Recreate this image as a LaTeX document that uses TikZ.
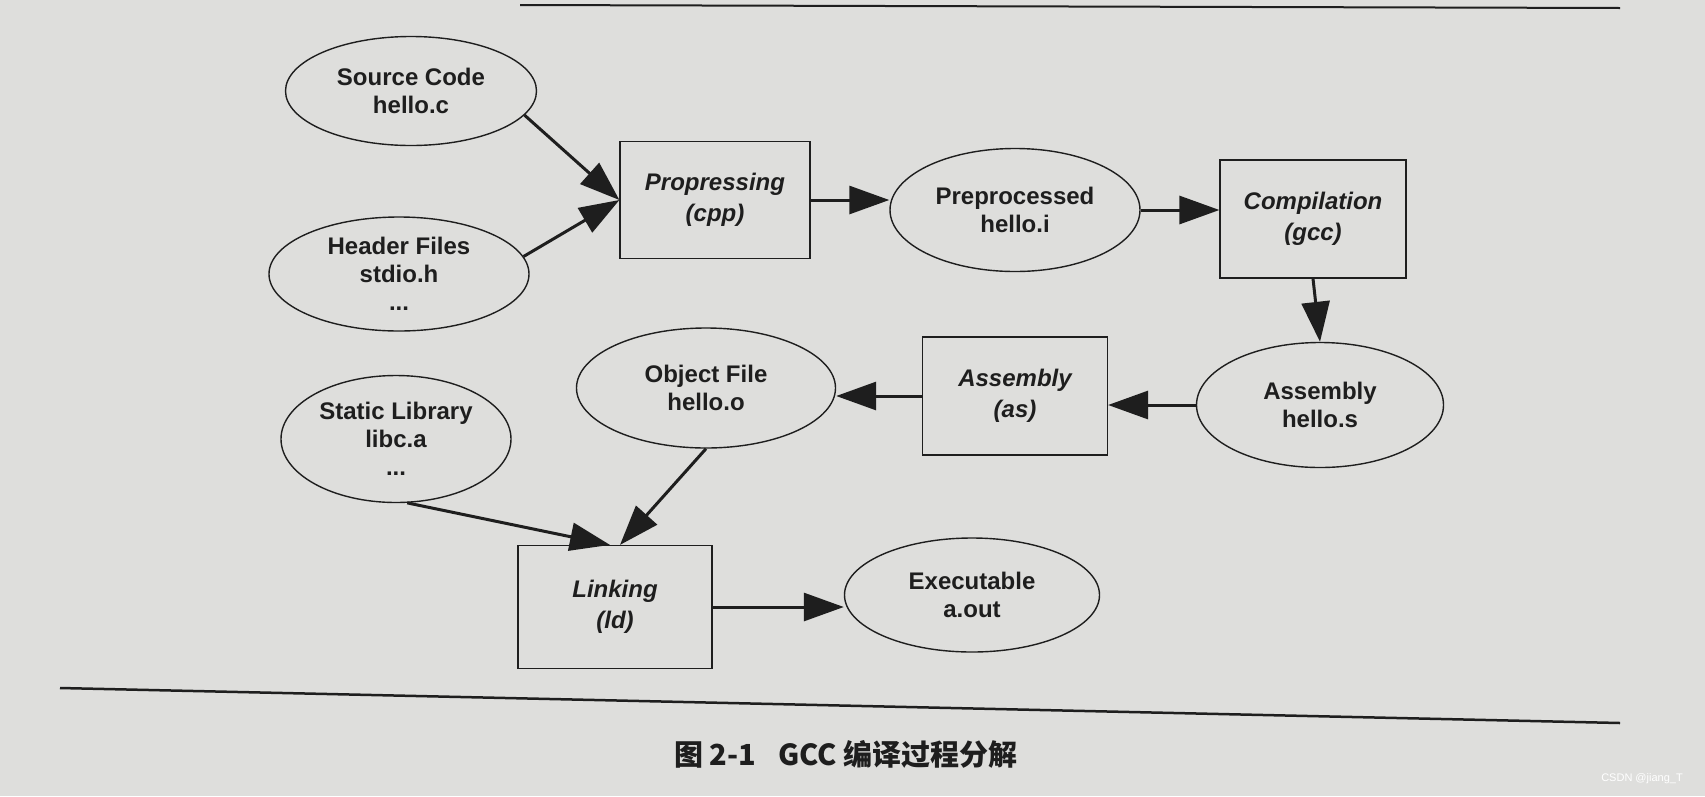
\documentclass[tikz,border=0pt]{standalone}
\usepackage{fontspec}
\setmainfont{Liberation Sans}
\newfontfamily\cjk{Noto Sans CJK SC}
\usetikzlibrary{shapes.geometric,arrows.meta}

\definecolor{paper}{RGB}{222,222,220}
\definecolor{ink}{RGB}{30,30,30}

\tikzset{
	file/.style={ellipse, draw=ink, line width=1.4pt, inner sep=0pt, align=center, font=\fontsize{24}{28}\selectfont\bfseries, text=ink},
	stage/.style={rectangle, draw=ink, line width=1.2pt, inner sep=0pt, align=center, font=\fontsize{24}{31}\selectfont\bfseries\itshape, text=ink},
	flow/.style={draw=ink, line width=3pt, -{Triangle[length=40pt,width=28pt]}}
}

\begin{document}
\begin{tikzpicture}[x=1pt,y=-1pt]
	\fill[paper] (0,0) rectangle (1705,796);
	\useasboundingbox (0,0) rectangle (1705,796);
	\draw (411,91) node[file, minimum width=251pt, minimum height=109pt](src) {Source Code\\hello.c};
	\draw (399,274) node[file, minimum width=260pt, minimum height=114pt](hdr) {Header Files\\stdio.h\\...};
	\draw (715,200) node[stage, minimum width=190pt, minimum height=117pt](cpp) {Propressing\\(cpp)};
	\draw (1015,210) node[file, minimum width=250pt, minimum height=123pt](pre) {Preprocessed\\hello.i};
	\draw (1313,219) node[stage, minimum width=186pt, minimum height=118pt](gcc) {Compilation\\(gcc)};
	\draw (1320,405) node[file, minimum width=247pt, minimum height=125pt](asms) {Assembly\\hello.s};
	\draw (1015,396) node[stage, minimum width=185pt, minimum height=118pt](as) {Assembly\\(as)};
	\draw (706,388) node[file, minimum width=259pt, minimum height=120pt](obj) {Object File\\hello.o};
	\draw (396,439) node[file, minimum width=230pt, minimum height=127pt](lib) {Static Library\\libc.a\\...};
	\draw (615,607) node[stage, minimum width=194pt, minimum height=123pt](ld) {Linking\\(ld)};
	\draw (972,595) node[file, minimum width=255pt, minimum height=114pt](exe) {Executable\\a.out};
	\draw[flow] (src.-12) -- (cpp.west);
	\draw[flow] (hdr.8) -- (cpp.west);
	\draw[flow] (cpp.east) -- (cpp.east -| pre.west);
	\draw[flow] (pre.east) -- (pre.east -| gcc.west);
	\draw[flow] (gcc.south) -- (asms.north);
	\draw[flow] (asms.west) -- (asms.west -| as.east);
	\draw[flow] (as.west) -- (as.west -| obj.east);
	\draw[flow] (obj.south) -- (ld.north west -| 620,546);
	\draw[flow] (lib.-80) -- (ld.north west -| 610,546);
	\draw[flow] (ld.east) -- (ld.east -| exe.west);
	\draw[ink, line width=2pt] (520,5) -- (1620,8);
	\draw[ink, line width=2.5pt] (60,688) -- (1620,723);
	\draw (846,754) node[font=\cjk\fontsize{29}{33}\selectfont\bfseries, text=ink](cap) {图 2-1\hspace{22pt}GCC 编译过程分解};
	\draw (1642,779) node[font=\fontsize{11}{13}\selectfont, text=white](mark) {CSDN @jiang\_T};
\end{tikzpicture}
\end{document}
